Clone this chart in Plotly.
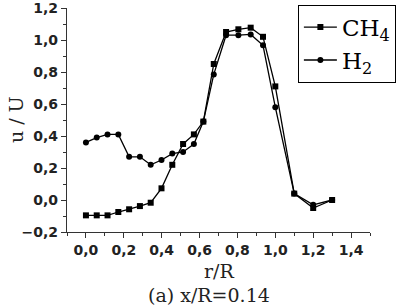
import plotly.graph_objects as go

r_R = [0, 0.057, 0.114, 0.171, 0.228, 0.285, 0.342, 0.399, 0.456, 0.513, 0.57,
       0.62, 0.675, 0.74, 0.805, 0.87, 0.935, 1.0, 1.1, 1.2, 1.3]
ch4 = [-0.096, -0.096, -0.096, -0.075, -0.058, -0.038, -0.017, 0.073, 0.22, 0.35, 0.41,
       0.49, 0.85, 1.05, 1.067, 1.077, 1.02, 0.71, 0.04, -0.05, 0.0]
h2 = [0.36, 0.39, 0.41, 0.41, 0.27, 0.27, 0.22, 0.25, 0.29, 0.30, 0.35,
      0.49, 0.785, 1.03, 1.03, 1.035, 0.967, 0.58, 0.04, -0.03, 0.0]
x_ticks = [0.0, 0.2, 0.4, 0.6, 0.8, 1.0, 1.2, 1.4]
y_ticks = [-0.2, 0.0, 0.2, 0.4, 0.6, 0.8, 1.0, 1.2]

SERIF = "DejaVu Serif, Liberation Serif, serif"

fig = go.Figure()
fig.add_trace(go.Scatter(x=r_R, y=ch4, mode="lines+markers", name="CH<sub>4</sub>",
                         line=dict(color="black", width=1.3),
                         marker=dict(symbol="square", size=6, color="black")))
fig.add_trace(go.Scatter(x=r_R, y=h2, mode="lines+markers", name="H<sub>2</sub>",
                         line=dict(color="black", width=1.3),
                         marker=dict(symbol="circle", size=6, color="black")))

tickfont = dict(family="DejaVu Sans, Liberation Sans", size=14, color="#222", weight="bold")
fig.update_layout(
    width=396, height=306,
    margin=dict(l=67, r=26, t=8, b=74, autoexpand=False),
    paper_bgcolor="white", plot_bgcolor="white",
    separators=",.",
    showlegend=True,
    legend=dict(x=0.762, y=1.015, xanchor="left", yanchor="top",
                bordercolor="black", borderwidth=1, bgcolor="white",
                font=dict(family=SERIF, size=23, color="black"),
                itemwidth=33, tracegroupgap=0),
    xaxis=dict(range=[-0.1, 1.5], tickvals=x_ticks, tickformat=".1f",
               showline=True, linecolor="#333", linewidth=1.2, automargin=False,
               ticklabeloverflow="allow",
               ticks="outside", ticklen=5, tickcolor="#333", tickwidth=1,
               minor=dict(dtick=0.1, ticks="outside", ticklen=3, tickcolor="#333"),
               showgrid=False, zeroline=False, tickfont=tickfont),
    yaxis=dict(range=[-0.2, 1.2], tickvals=y_ticks, tickformat=".1f",
               showline=True, linecolor="#333", linewidth=1.2, automargin=False,
               ticklabeloverflow="allow",
               ticks="outside", ticklen=5, tickcolor="#333", tickwidth=1,
               minor=dict(dtick=0.1, ticks="outside", ticklen=3, tickcolor="#333"),
               showgrid=False, zeroline=False, tickfont=tickfont),
    annotations=[
        dict(text="r/R", xref="paper", yref="paper", x=0.5, y=-0.175, showarrow=False,
             font=dict(family=SERIF, size=19, color="#222"),
             xanchor="center", yanchor="middle"),
        dict(text="(a) x/R=0.14", xref="paper", yref="paper", x=0.47, y=-0.282, showarrow=False,
             font=dict(family=SERIF, size=19, color="#222"),
             xanchor="center", yanchor="middle"),
        dict(text="u / U", xref="paper", yref="paper", x=-0.168, y=0.5, showarrow=False,
             textangle=-90,
             font=dict(family=SERIF, size=19, color="#222"),
             xanchor="center", yanchor="middle"),
    ],
)
fig.write_html("out.html")
